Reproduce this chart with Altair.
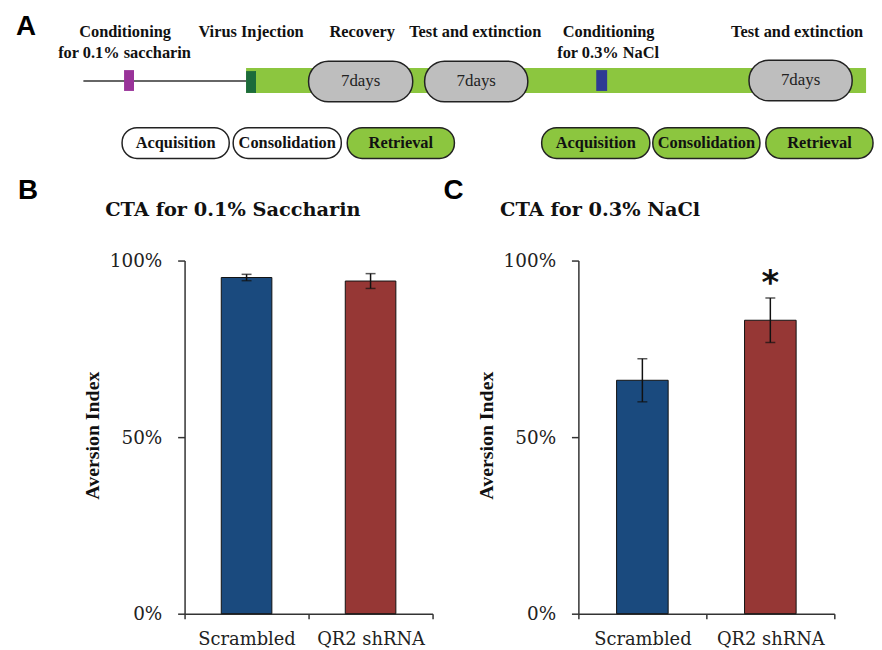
import altair as alt
import pandas as pd

# ---------------- Panel A: protocol timeline (positions in timeline units) ----------------
head_text = ["Conditioning", "for 0.1% saccharin", "Virus Injection", "Recovery",
             "Test and extinction", "Conditioning", "for 0.3% NaCl", "Test and extinction"]
head_x = [115, 114.5, 242, 354, 468, 602.5, 602, 792.5]
head_y = [22, 43, 22, 22, 22, 22, 43, 22]

line_start = [73]
line_end = [237]
line_level = [71]

band_start = [237]
band_end = [862]
band_top = [58]
band_bottom = [83]

event_start = [114, 237, 590]
event_end = [124, 247, 601]
event_top = [60, 61, 60]
event_bottom = [81, 83, 81]
event_color = ["#993399", "#1C6B3B", "#2E3A94"]

pill_start = [300, 417, 744]
pill_end = [405, 521, 848]
pill_top = [51, 51, 50]
pill_bottom = [92, 92, 91]
pill_label = ["7days", "7days", "7days"]

phase_label = ["Acquisition", "Consolidation", "Retrieval",
               "Acquisition", "Consolidation", "Retrieval"]
phase_start = [112, 224, 339, 535, 647, 761]
phase_end = [220, 333, 447, 644, 755, 869]
phase_fill = ["white", "white", "#8CC63F", "#8CC63F", "#8CC63F", "#8CC63F"]
phase_top = [118] * 6
phase_bottom = [149] * 6

GREEN = "#8CC63F"

# ---------------- Panels B and C: bar data ----------------
groups = ["Scrambled", "QR2 shRNA"]
bar_colors = ["#1A4A7E", "#963735"]
sacc_mean = [0.952, 0.942]
sacc_err = [0.009, 0.021]
nacl_mean = [0.661, 0.831]
nacl_err = [0.061, 0.063]

# ====================== Panel A chart ======================
xs = alt.Scale(domain=[0, 870])
ys = alt.Scale(domain=[0, 170], reverse=True)


def X(f):
    return alt.X(f, type="quantitative", scale=xs, axis=None)


def Y(f):
    return alt.Y(f, type="quantitative", scale=ys, axis=None)


line_df = pd.DataFrame({"x": line_start, "x2": line_end, "y": line_level})
band_df = pd.DataFrame({"x": band_start, "x2": band_end, "y": band_top, "y2": band_bottom})
event_df = pd.DataFrame({"x": event_start, "x2": event_end, "y": event_top,
                         "y2": event_bottom, "c": event_color})
pill_df = pd.DataFrame({"x": pill_start, "x2": pill_end, "y": pill_top,
                        "y2": pill_bottom, "t": pill_label})
pill_df["xm"] = (pill_df.x + pill_df.x2) / 2
pill_df["ym"] = (pill_df.y + pill_df.y2) / 2
phase_df = pd.DataFrame({"x": phase_start, "x2": phase_end, "y": phase_top,
                         "y2": phase_bottom, "t": phase_label, "c": phase_fill})
phase_df["xm"] = (phase_df.x + phase_df.x2) / 2
phase_df["ym"] = (phase_df.y + phase_df.y2) / 2
head_df = pd.DataFrame({"x": head_x, "y": head_y, "t": head_text})

a_line = alt.Chart(line_df).mark_rule(color="#333333", strokeWidth=1.5).encode(
    x=X("x"), x2="x2", y=Y("y"))
a_band = alt.Chart(band_df).mark_rect(color=GREEN).encode(
    x=X("x"), x2="x2", y=Y("y"), y2="y2")
a_events = alt.Chart(event_df).mark_rect().encode(
    x=X("x"), x2="x2", y=Y("y"), y2="y2", color=alt.Color("c:N", scale=None))
a_pills = alt.Chart(pill_df).mark_rect(
    color="#BEBEBE", stroke="#222222", strokeWidth=1.5, cornerRadius=20).encode(
    x=X("x"), x2="x2", y=Y("y"), y2="y2")
a_pill_text = alt.Chart(pill_df).mark_text(
    font="Liberation Serif", fontSize=17, color="#222222", baseline="middle").encode(
    x=X("xm"), y=Y("ym"), text="t:N")
a_phases = alt.Chart(phase_df).mark_rect(
    stroke="#222222", strokeWidth=1.5, cornerRadius=15).encode(
    x=X("x"), x2="x2", y=Y("y"), y2="y2", color=alt.Color("c:N", scale=None))
a_phase_text = alt.Chart(phase_df).mark_text(
    font="Liberation Serif", fontSize=16.5, fontWeight="bold", color="#111111",
    baseline="middle").encode(x=X("xm"), y=Y("ym"), text="t:N")
a_head = alt.Chart(head_df).mark_text(
    font="Liberation Serif", fontSize=16.5, fontWeight="bold", color="#111111",
    baseline="middle").encode(x=X("x"), y=Y("y"), text="t:N")
a_letter = alt.Chart(pd.DataFrame({"t": ["A"]})).mark_text(
    font="Liberation Sans", fontSize=28, fontWeight="bold", color="#000000",
    align="left", baseline="alphabetic").encode(
    x=alt.value(5), y=alt.value(25), text="t:N")

panel_a = alt.layer(a_line, a_band, a_events, a_pills, a_pill_text, a_phases,
                    a_phase_text, a_head, a_letter).properties(width=870, height=170)


# ====================== Panels B and C ======================
def bar_panel(mean, err, title, letter, width, barsize, letter_x, title_x, star=None):
    df = pd.DataFrame({"group": groups, "mean": mean,
                       "lo": [m - e for m, e in zip(mean, err)],
                       "hi": [m + e for m, e in zip(mean, err)],
                       "c": bar_colors})
    xenc = alt.X("group:N", sort=groups,
                 scale=alt.Scale(paddingInner=0, paddingOuter=0),
                 axis=alt.Axis(title=None, labelAngle=0, tickBand="extent",
                               labelFont="DejaVu Serif", labelFontSize=18,
                               labelColor="#222222", labelPadding=12,
                               tickSize=5, tickColor="#333333", tickWidth=1.5,
                               domainColor="#333333", domainWidth=1.5))
    yaxis = alt.Axis(values=[0, 0.5, 1], format=".0%", title="Aversion Index",
                     titleFont="Liberation Serif", titleFontSize=20,
                     titleFontWeight="bold", titleColor="#111111",
                     titleAngle=270, titleAlign="center", titleBaseline="middle",
                     titleX=-93, titleY=176,
                     labelFont="DejaVu Serif", labelFontSize=18.5,
                     labelColor="#222222", labelPadding=16,
                     tickSize=7, tickColor="#333333", tickWidth=1.5,
                     domainColor="#333333", domainWidth=1.5, grid=False)
    yscale = alt.Scale(domain=[0, 1])

    def yenc(f):
        return alt.Y(f, type="quantitative", scale=yscale, axis=yaxis)

    base = alt.Chart(df)
    bars = base.mark_bar(size=barsize, stroke="#111111", strokeWidth=1).encode(
        x=xenc, y=yenc("mean"), color=alt.Color("c:N", scale=None))
    rules = base.mark_rule(color="#111111", strokeWidth=1.5).encode(
        x=xenc, y=yenc("lo"), y2="hi")
    cap_lo = base.mark_tick(color="#111111", size=10, thickness=1.5).encode(
        x=xenc, y=yenc("lo"))
    cap_hi = base.mark_tick(color="#111111", size=10, thickness=1.5).encode(
        x=xenc, y=yenc("hi"))
    ttl = alt.Chart(pd.DataFrame({"t": [title]})).mark_text(
        font="DejaVu Serif", fontSize=19.5, fontWeight="bold", color="#111111",
        align="left", baseline="middle").encode(
        x=alt.value(title_x), y=alt.value(-51), text="t:N")
    let = alt.Chart(pd.DataFrame({"t": [letter]})).mark_text(
        font="Liberation Sans", fontSize=28, fontWeight="bold", color="#000000",
        align="left", baseline="alphabetic").encode(
        x=alt.value(letter_x), y=alt.value(-62), text="t:N")
    layers = [bars, rules, cap_lo, cap_hi, ttl, let]
    if star is not None:
        sdf = pd.DataFrame({"group": [star[0]], "s": [star[1]], "t": ["*"]})
        layers.append(alt.Chart(sdf).mark_text(
            font="DejaVu Sans", fontSize=34, fontWeight="bold", color="#111111",
            baseline="middle", dy=8).encode(x=xenc, y=yenc("s"), text="t:N"))
    return alt.layer(*layers).properties(width=width, height=356)


panel_b = bar_panel(sacc_mean, sacc_err, "CTA for 0.1% Saccharin", "B",
                    250, 51, -168, -80)
panel_c = bar_panel(nacl_mean, nacl_err, "CTA for 0.3% NaCl", "C",
                    258, 52, -136, -79, star=("QR2 shRNA", 0.957))

spacer = alt.Chart(pd.DataFrame({"a": [0]})).mark_point(opacity=0).encode(
    x=alt.value(0), y=alt.value(0)).properties(width=28, height=356)

row = alt.hconcat(spacer, panel_b, panel_c, spacing=147, bounds="flush")

chart = alt.vconcat(panel_a, row, spacing=82, bounds="flush").configure_view(
    stroke=None).properties(padding=0)

chart.save("out.html", embed_options={"renderer": "svg", "actions": False})
